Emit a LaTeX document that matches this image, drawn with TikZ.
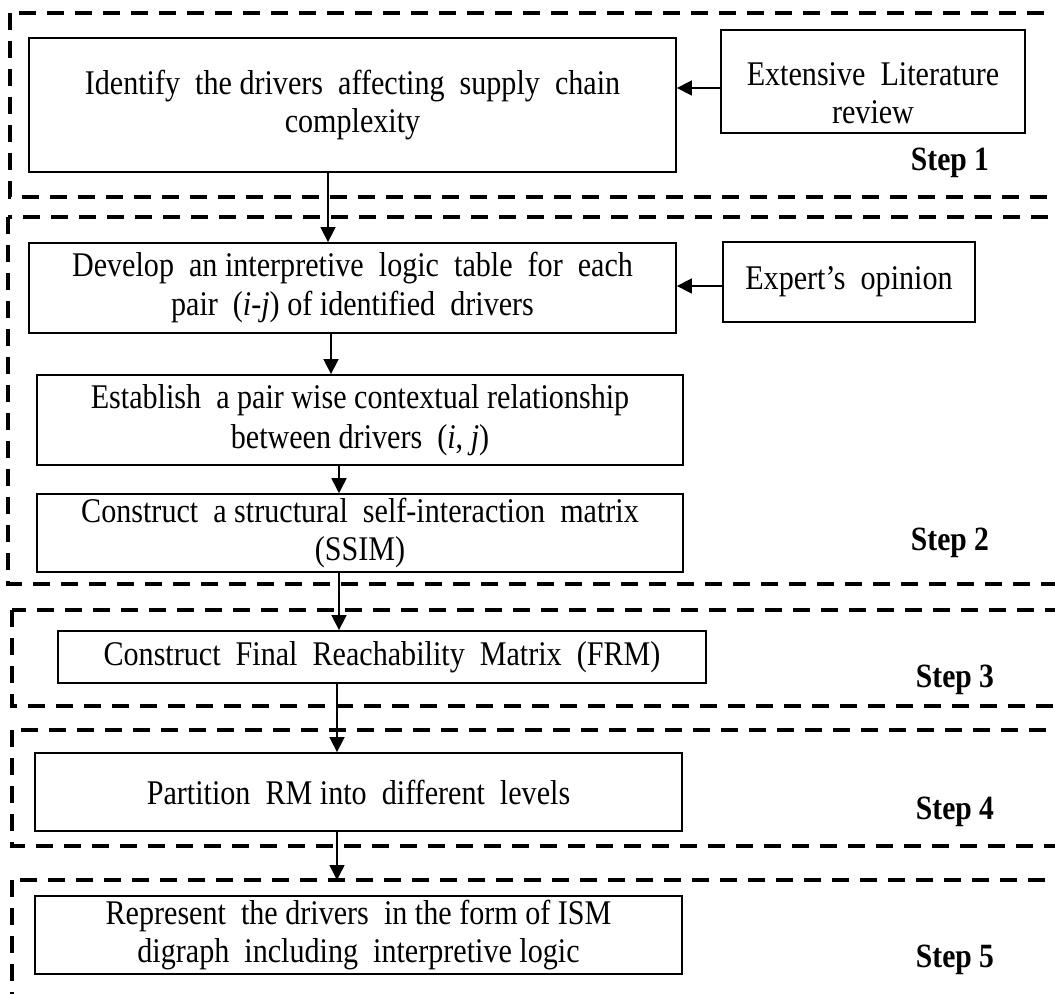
\documentclass[tikz,border=0pt]{standalone}
\usepackage{fontspec}
\setmainfont[FakeStretch=0.87]{Liberation Serif}
\usetikzlibrary{arrows.meta, positioning, calc}

\tikzset{
  procbox/.style={draw, line width=0.9pt, align=center, inner sep=2pt,
    font=\fontsize{17.3}{19}\selectfont},
  stepframe/.style={line width=2pt, dash pattern=on 8.5pt off 5.5pt},
  arr/.style={-{Triangle[length=7.5pt,width=7.5pt]}, line width=0.8pt},
  steplab/.style={font=\fontsize{17}{18}\selectfont\bfseries}
}

\begin{document}
\begin{tikzpicture}[x=0.5pt, y=-0.5pt]
\useasboundingbox (0,0) rectangle (1055,994);
% dashed frames of the five steps
\draw[stepframe] (10,13) rectangle (1085,197);
\draw[stepframe] (8,217) rectangle (1085,584);
\draw[stepframe] (12,610) rectangle (1085,706);
\draw[stepframe] (12,730) rectangle (1085,846);
\draw[stepframe] (12,880) rectangle (1085,995.5);
\node[steplab] (s1) at (950,163) {Step 1};
\node[steplab] (s2) at (950,543) {Step 2};
\node[steplab] (s3) at (955,680) {Step 3};
\node[steplab] (s4) at (955,812) {Step 4};
\node[steplab] (s5) at (955,960) {Step 5};
\coordinate (s5top) at (337,880);

% process boxes
\node[procbox, minimum width=323.5pt, minimum height=67pt] (ident) at (352.5,105)
  {Identify\ \ the drivers\ \ affecting\ \ supply\ \ chain\\complexity};
\node[procbox, minimum width=152pt, minimum height=51.5pt] (lit) at (873,81.5)
  {\rule{0pt}{23pt}Extensive\ \ Literature\\review};
\node[procbox, minimum width=323.5pt, minimum height=45pt,
  font=\fontsize{17.3}{19.5}\selectfont] (devel) at (352.5,288)
  {Develop\ \ an interpretive\ \ logic\ \ table\ \ for\ \ each\\pair\ \ (\textit{i}-\textit{j}) of identified\ \ drivers};
\node[procbox, minimum width=126pt, minimum height=40pt] (expert) at (849,282)
  {Expert's\ \ opinion};
\node[procbox, minimum width=323pt, minimum height=45pt,
  font=\fontsize{17.3}{20}\selectfont] (estab) at (360,420)
  {Establish\ \ a pair wise contextual relationship\\between drivers\ \ (\textit{i}, \textit{j})};
\node[procbox, minimum width=323pt, minimum height=38pt] (ssim) at (360,533)
  {Construct\ \ a structural\ \ self-interaction\ \ matrix\\(SSIM)};
\node[procbox, minimum width=324pt, minimum height=26pt] (frm) at (382,657)
  {Construct\ \ Final\ \ Reachability\ \ Matrix\ \ (FRM)};
\node[procbox, minimum width=323.5pt, minimum height=39pt] (part) at (358.5,792)
  {Partition\ \ RM into\ \ different\ \ levels};
\node[procbox, minimum width=323.5pt, minimum height=38pt] (repr) at (358.5,935)
  {Represent\ \ the drivers\ \ in the form of ISM\\digraph\ \ including\ \ interpretive logic};

% connectors
\draw[arr] (lit.west |- 0,88) -- (ident.east |- 0,88);
\draw[arr] (expert.west |- 0,286) -- (devel.east |- 0,286);
\draw[arr] (ident.south -| 328,0) -- (devel.north -| 328,0);
\draw[arr] (devel.south -| 331,0) -- (estab.north -| 331,0);
\draw[arr] (estab.south -| 339,0) -- (ssim.north -| 339,0);
\draw[arr] (ssim.south -| 339,0) -- (frm.north -| 339,0);
\draw[arr] (frm.south -| 337,0) -- (part.north -| 337,0);
\draw[arr] (part.south -| 337,0) -- (s5top);
\end{tikzpicture}
\end{document}
